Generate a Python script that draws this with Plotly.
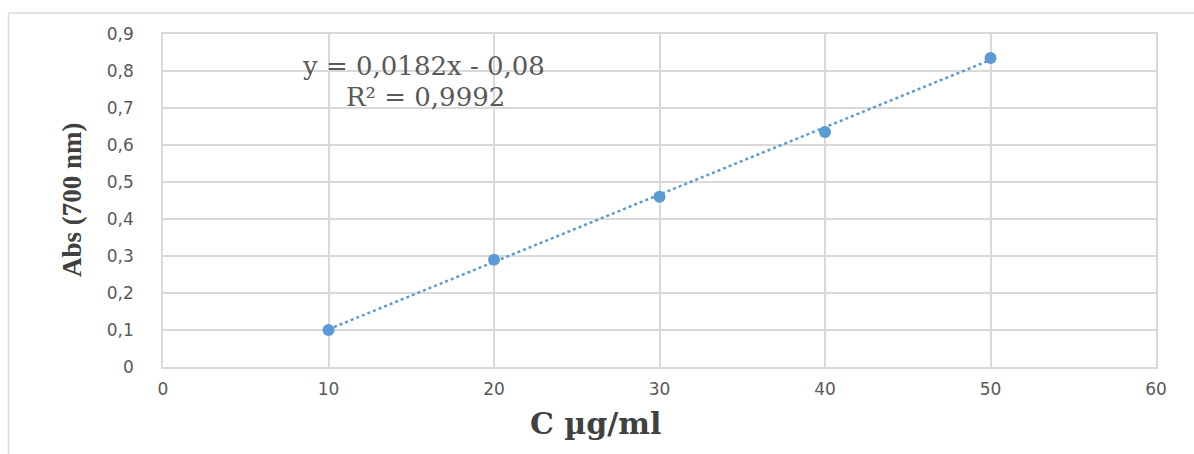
import plotly.graph_objects as go

conc = [10, 20, 30, 40, 50]
absorb = [0.10, 0.29, 0.46, 0.635, 0.835]
slope = 0.0182
intercept = -0.08
r2_text = "R² = 0,9992"
eq_text = "y = 0,0182x - 0,08"
x_title = "<b>C µg/ml</b>"
y_title = "<b>Abs (700 nm)</b>"
x_ticks = [0, 10, 20, 30, 40, 50, 60]
y_ticks = [0, 0.1, 0.2, 0.3, 0.4, 0.5, 0.6, 0.7, 0.8, 0.9]
y_labels = ["0", "0,1", "0,2", "0,3", "0,4", "0,5", "0,6", "0,7", "0,8", "0,9"]

fit_x = [conc[0], conc[-1]]
fit_y = [slope * v + intercept for v in fit_x]

blue = "#5B9BD5"
grid = "#D9D9D9"
L, T, W, H = 163, 34, 993, 333


def px(xp):
    return (xp - L) / W


def py(yp):
    return (T + H - yp) / H


fig = go.Figure()
fig.add_trace(go.Scatter(x=fit_x, y=fit_y, mode="lines",
                         line=dict(color=blue, width=2.5, dash="dot"),
                         hoverinfo="skip", showlegend=False))
fig.add_trace(go.Scatter(x=conc, y=absorb, mode="markers",
                         marker=dict(color=blue, size=12), showlegend=False))

fig.update_layout(
    width=1194, height=454,
    margin=dict(l=L, r=1194 - L - W, t=T, b=454 - T - H),
    paper_bgcolor="white", plot_bgcolor="white",
    xaxis=dict(range=[0, 60], tickvals=x_ticks, showgrid=True, gridcolor=grid,
               gridwidth=1.5, zeroline=False, showline=True, linecolor=grid,
               linewidth=1.5, mirror=True, ticks="", ticklabelstandoff=6,
               tickfont=dict(family="DejaVu Sans", size=17, color="#595959")),
    yaxis=dict(range=[0, 0.9], tickvals=y_ticks, ticktext=y_labels, showgrid=True,
               gridcolor=grid, gridwidth=1.5, zeroline=False, showline=True,
               linecolor=grid, linewidth=1.5, mirror=True, ticks="",
               ticklabelstandoff=24,
               tickfont=dict(family="DejaVu Sans", size=17, color="#595959")),
)
ann_font = dict(family="DejaVu Serif", size=26, color="#595959")
fig.add_annotation(x=px(423), y=py(66), xref="paper", yref="paper", xanchor="center",
                   yanchor="middle", text=eq_text, showarrow=False, font=ann_font)
fig.add_annotation(x=px(425), y=py(97), xref="paper", yref="paper", xanchor="center",
                   yanchor="middle", text=r2_text, showarrow=False, font=ann_font)
fig.add_annotation(x=px(595), y=py(423), xref="paper", yref="paper", xanchor="center",
                   yanchor="middle", text=x_title, showarrow=False,
                   font=dict(family="DejaVu Serif", size=30, color="#404040"))
fig.add_annotation(x=px(72), y=py(200), xref="paper", yref="paper", xanchor="center",
                   yanchor="middle", text=y_title, showarrow=False, textangle=-90,
                   font=dict(family="Liberation Serif", size=27, color="#404040"))
# outer chart border (top and left edges)
fig.add_shape(type="line", xref="paper", yref="paper",
              x0=px(8.5), x1=px(1194), y0=py(13), y1=py(13),
              line=dict(color=grid, width=1.5))
fig.add_shape(type="line", xref="paper", yref="paper",
              x0=px(8.5), x1=px(8.5), y0=py(13), y1=py(454),
              line=dict(color=grid, width=1.5))

fig.write_html("out.html", config={"displayModeBar": False},
               post_script="document.body.style.margin='0';")
